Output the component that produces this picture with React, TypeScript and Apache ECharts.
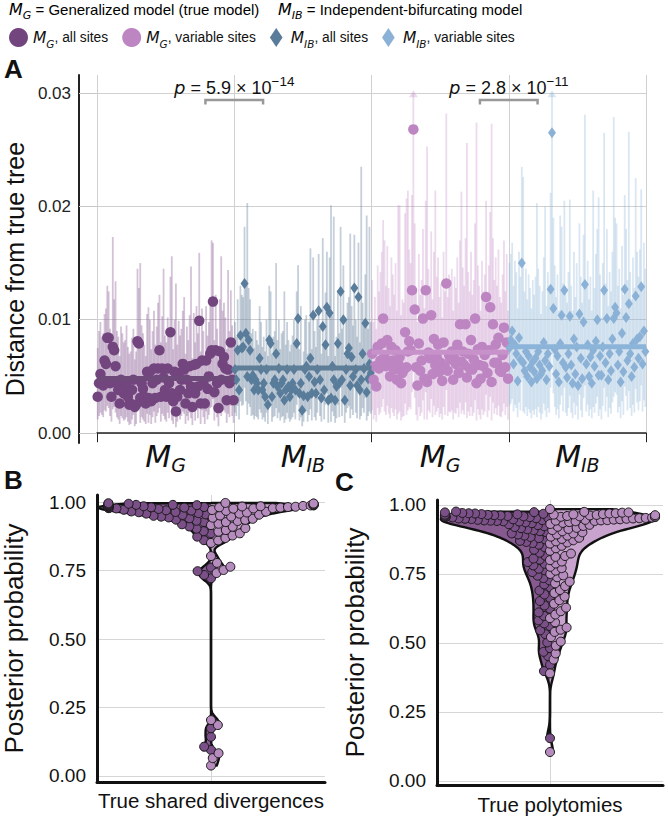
import React, { useEffect, useRef } from "react";
import * as echarts from "echarts";

const FONT = "'Liberation Sans', 'DejaVu Sans', sans-serif";
const MATH = "'DejaVu Sans', sans-serif";

// ---------------- Panel A data (distance from true tree) ----------------
const GROUP_SUBSCRIPTS = ["G", "IB", "G", "IB"];
const Y_TICKS_A = [0, 0.01, 0.02, 0.03];

const MG_ALL_DIST = [0.0032,0.0044,0.0052,0.0047,0.0042, 0.0064,0.0061,0.0084,0.0084,0.0044, 0.0032,0.0076,0.0073,0.0059,0.0044, 0.0038,0.0026,0.0047,0.0042,0.0035, 0.0038,0.0044,0.0032,0.0025,0.0026, 0.0038,0.0047,0.0023,0.0025,0.0081, 0.0079,0.0031,0.0044,0.0039,0.0032, 0.0026,0.0054,0.0031,0.0054,0.0028, 0.0044,0.0057,0.0031,0.0047,0.0057, 0.0073,0.0032,0.0057,0.0049,0.0038, 0.0032,0.0057,0.0044,0.0089,0.0035, 0.0028,0.0054,0.0019,0.0032,0.0053, 0.0038,0.0047,0.0061,0.0056,0.0026, 0.0047,0.0035,0.0059,0.0041,0.0023, 0.0060,0.0035,0.0061,0.0041,0.0099, 0.0026,0.0064,0.0044,0.0026,0.0064, 0.0039,0.0050,0.0070,0.0073,0.0116, 0.0036,0.0073,0.0044,0.0022,0.0072, 0.0047,0.0061,0.0067,0.0057,0.0029, 0.0056,0.0044,0.0080,0.0047,0.0029];
const MG_ALL_LOW = [0.0012,0.0015,0.0018,0.0016,0.0014, 0.0020,0.0019,0.0024,0.0022,0.0015, 0.0010,0.0021,0.0023,0.0018,0.0014, 0.0012,0.0008,0.0015,0.0013,0.0011, 0.0012,0.0014,0.0010,0.0007,0.0008, 0.0012,0.0016,0.0006,0.0008,0.0022, 0.0024,0.0009,0.0014,0.0012,0.0010, 0.0008,0.0017,0.0009,0.0016,0.0008, 0.0014,0.0019,0.0009,0.0015,0.0018, 0.0022,0.0010,0.0017,0.0015,0.0012, 0.0010,0.0018,0.0013,0.0026,0.0011, 0.0008,0.0016,0.0005,0.0010,0.0017, 0.0012,0.0015,0.0019,0.0017,0.0008, 0.0015,0.0011,0.0018,0.0013,0.0007, 0.0019,0.0011,0.0020,0.0013,0.0028, 0.0008,0.0020,0.0014,0.0008,0.0019, 0.0012,0.0016,0.0022,0.0023,0.0030, 0.0011,0.0022,0.0014,0.0006,0.0021, 0.0015,0.0019,0.0020,0.0018,0.0009, 0.0017,0.0014,0.0024,0.0015,0.0009];
const MG_ALL_HIGH = [0.0075,0.0090,0.0098,0.0085,0.0088, 0.0105,0.0110,0.0130,0.0125,0.0092, 0.0078,0.0173,0.0118,0.0134,0.0090, 0.0085,0.0068,0.0094,0.0088,0.0080, 0.0082,0.0095,0.0076,0.0070,0.0072, 0.0084,0.0092,0.0065,0.0072,0.0145, 0.0128,0.0150,0.0095,0.0088,0.0078, 0.0068,0.0105,0.0111,0.0100,0.0074, 0.0090,0.0108,0.0078,0.0094,0.0115, 0.0122,0.0080,0.0103,0.0145,0.0086, 0.0080,0.0102,0.0092,0.0138,0.0156, 0.0074,0.0100,0.0132,0.0078,0.0099, 0.0086,0.0092,0.0108,0.0120,0.0070, 0.0094,0.0082,0.0104,0.0147,0.0066, 0.0106,0.0080,0.0112,0.0088,0.0159, 0.0072,0.0110,0.0090,0.0068,0.0112, 0.0086,0.0098,0.0120,0.0170,0.0168, 0.0082,0.0122,0.0092,0.0066,0.0118, 0.0156,0.0108,0.0115,0.0102,0.0074, 0.0144,0.0090,0.0126,0.0095,0.0078];

const MIB_ALL_DIST = [0.0056,0.0047,0.0073,0.0038,0.0086, 0.0075,0.0076,0.0132,0.0088,0.0050, 0.0082,0.0073,0.0047,0.0051,0.0038, 0.0047,0.0044,0.0038,0.0066,0.0056, 0.0038,0.0044,0.0032,0.0056,0.0025, 0.0082,0.0079,0.0032,0.0044,0.0047, 0.0070,0.0041,0.0057,0.0035,0.0044, 0.0047,0.0029,0.0038,0.0056,0.0041, 0.0032,0.0038,0.0044,0.0056,0.0038, 0.0079,0.0101,0.0035,0.0044,0.0020, 0.0033,0.0056,0.0059,0.0032,0.0050, 0.0066,0.0035,0.0104,0.0045,0.0035, 0.0056,0.0108,0.0047,0.0031,0.0094, 0.0038,0.0078,0.0111,0.0029,0.0106, 0.0031,0.0059,0.0047,0.0029,0.0041, 0.0079,0.0044,0.0125,0.0047,0.0100, 0.0029,0.0056,0.0070,0.0075,0.0042, 0.0067,0.0050,0.0128,0.0056,0.0042, 0.0120,0.0038,0.0047,0.0070,0.0057, 0.0097,0.0036,0.0048,0.0061,0.0053];
const MIB_ALL_LOW = [0.0018,0.0015,0.0024,0.0012,0.0028, 0.0024,0.0025,0.0040,0.0028,0.0016, 0.0026,0.0023,0.0015,0.0016,0.0012, 0.0015,0.0014,0.0012,0.0021,0.0018, 0.0012,0.0014,0.0010,0.0018,0.0008, 0.0026,0.0025,0.0010,0.0014,0.0015, 0.0022,0.0013,0.0018,0.0011,0.0014, 0.0015,0.0009,0.0012,0.0018,0.0013, 0.0010,0.0012,0.0014,0.0018,0.0012, 0.0025,0.0032,0.0011,0.0014,0.0006, 0.0010,0.0018,0.0019,0.0010,0.0016, 0.0021,0.0011,0.0033,0.0014,0.0011, 0.0018,0.0034,0.0015,0.0010,0.0030, 0.0012,0.0025,0.0035,0.0009,0.0034, 0.0010,0.0019,0.0015,0.0009,0.0013, 0.0025,0.0014,0.0040,0.0015,0.0032, 0.0009,0.0018,0.0022,0.0024,0.0013, 0.0021,0.0016,0.0041,0.0018,0.0013, 0.0038,0.0012,0.0015,0.0022,0.0018, 0.0031,0.0011,0.0015,0.0019,0.0017];
const MIB_ALL_HIGH = [0.0098,0.0085,0.0118,0.0078,0.0130, 0.0122,0.0120,0.0182,0.0135,0.0203, 0.0128,0.0118,0.0088,0.0092,0.0075, 0.0090,0.0082,0.0078,0.0112,0.0098, 0.0076,0.0085,0.0072,0.0100,0.0068, 0.0130,0.0125,0.0070,0.0085,0.0090, 0.0150,0.0082,0.0100,0.0074,0.0088, 0.0090,0.0125,0.0078,0.0098,0.0082, 0.0072,0.0078,0.0086,0.0100,0.0080, 0.0125,0.0148,0.0074,0.0112,0.0060, 0.0072,0.0100,0.0104,0.0070,0.0098, 0.0163,0.0074,0.0155,0.0090,0.0076, 0.0100,0.0158,0.0092,0.0070,0.0172, 0.0080,0.0124,0.0160,0.0068,0.0155, 0.0201,0.0104,0.0191,0.0068,0.0085, 0.0126,0.0088,0.0182,0.0092,0.0148, 0.0068,0.0100,0.0115,0.0120,0.0176, 0.0112,0.0095,0.0175,0.0100,0.0085, 0.0168,0.0080,0.0235,0.0115,0.0100, 0.0140,0.0192,0.0092,0.0182,0.0098];

const MG_VAR_DIST = [0.0070,0.0047,0.0059,0.0041,0.0076, 0.0057,0.0064,0.0079,0.0101,0.0067, 0.0059,0.0082,0.0061,0.0050,0.0076, 0.0064,0.0056,0.0073,0.0047,0.0061, 0.0067,0.0044,0.0053,0.0056,0.0089, 0.0058,0.0072,0.0081,0.0073,0.0126, 0.0268,0.0109,0.0058,0.0042,0.0079, 0.0055,0.0064,0.0101,0.0048,0.0126, 0.0045,0.0071,0.0066,0.0104,0.0052, 0.0083,0.0060,0.0067,0.0078,0.0054, 0.0062,0.0046,0.0080,0.0058,0.0132, 0.0055,0.0069,0.0065,0.0072,0.0047, 0.0066,0.0061,0.0078,0.0053,0.0096, 0.0063,0.0072,0.0060,0.0096,0.0049, 0.0070,0.0057,0.0082,0.0056,0.0065, 0.0101,0.0044,0.0074,0.0060,0.0048, 0.0076,0.0059,0.0069,0.0120,0.0053, 0.0073,0.0111,0.0045,0.0096,0.0062, 0.0078,0.0062,0.0084,0.0055,0.0054, 0.0069,0.0093,0.0058,0.0080,0.0048];
const MG_VAR_LOW = [0.0020,0.0012,0.0016,0.0010,0.0022, 0.0016,0.0018,0.0023,0.0030,0.0019, 0.0016,0.0024,0.0017,0.0013,0.0022, 0.0018,0.0015,0.0021,0.0012,0.0017, 0.0019,0.0011,0.0014,0.0015,0.0026, 0.0016,0.0020,0.0023,0.0021,0.0036, 0.0060,0.0031,0.0016,0.0011,0.0023, 0.0015,0.0018,0.0029,0.0012,0.0036, 0.0012,0.0020,0.0018,0.0030,0.0014, 0.0024,0.0016,0.0019,0.0022,0.0014, 0.0017,0.0012,0.0023,0.0016,0.0038, 0.0015,0.0019,0.0018,0.0020,0.0012, 0.0018,0.0017,0.0022,0.0014,0.0027, 0.0017,0.0020,0.0016,0.0027,0.0013, 0.0019,0.0015,0.0023,0.0015,0.0018, 0.0029,0.0011,0.0021,0.0016,0.0012, 0.0021,0.0016,0.0019,0.0034,0.0014, 0.0020,0.0032,0.0011,0.0027,0.0017, 0.0022,0.0016,0.0024,0.0015,0.0014, 0.0019,0.0026,0.0016,0.0023,0.0012];
const MG_VAR_HIGH = [0.0135,0.0098,0.0120,0.0092,0.0148, 0.0125,0.0142,0.0160,0.0188,0.0170, 0.0130,0.0165,0.0128,0.0112,0.0155, 0.0140,0.0122,0.0150,0.0108,0.0201, 0.0201,0.0104,0.0118,0.0115,0.0194, 0.0207,0.0214,0.0162,0.0150,0.0210, 0.0350,0.0185,0.0128,0.0098,0.0158, 0.0122,0.0135,0.0180,0.0110,0.0205, 0.0253,0.0145,0.0130,0.0178,0.0118, 0.0160,0.0214,0.0138,0.0155,0.0120, 0.0132,0.0102,0.0160,0.0125,0.0282, 0.0120,0.0140,0.0135,0.0145,0.0108, 0.0138,0.0128,0.0155,0.0115,0.0170, 0.0213,0.0146,0.0130,0.0172,0.0256, 0.0142,0.0125,0.0160,0.0122,0.0135, 0.0185,0.0274,0.0148,0.0130,0.0108, 0.0152,0.0125,0.0140,0.0205,0.0118, 0.0148,0.0195,0.0273,0.0172,0.0135, 0.0155,0.0130,0.0162,0.0120,0.0115, 0.0140,0.0170,0.0125,0.0158,0.0108];

const MIB_VAR_DIST = [0.0075,0.0082,0.0090,0.0061,0.0078, 0.0070,0.0046,0.0084,0.0065,0.0150, 0.0062,0.0055,0.0072,0.0050,0.0068, 0.0058,0.0045,0.0063,0.0054,0.0066, 0.0048,0.0072,0.0060,0.0052,0.0055, 0.0080,0.0064,0.0047,0.0070,0.0059, 0.0127,0.0265,0.0110,0.0074,0.0052, 0.0068,0.0045,0.0079,0.0104,0.0062, 0.0126,0.0058,0.0049,0.0070,0.0103, 0.0060,0.0044,0.0083,0.0052,0.0076, 0.0042,0.0105,0.0066,0.0048,0.0098, 0.0131,0.0061,0.0078,0.0050,0.0067, 0.0044,0.0073,0.0059,0.0081,0.0100, 0.0051,0.0068,0.0051,0.0076,0.0126, 0.0062,0.0101,0.0047,0.0070,0.0055, 0.0083,0.0101,0.0111,0.0106,0.0060, 0.0072,0.0045,0.0088,0.0054,0.0127, 0.0102,0.0064,0.0114,0.0070,0.0050, 0.0079,0.0058,0.0121,0.0083,0.0066, 0.0085,0.0129,0.0061,0.0090,0.0072];
const MIB_VAR_LOW = [0.0024,0.0026,0.0030,0.0019,0.0025, 0.0022,0.0014,0.0027,0.0020,0.0048, 0.0019,0.0017,0.0023,0.0015,0.0021, 0.0018,0.0013,0.0020,0.0016,0.0021, 0.0014,0.0023,0.0018,0.0012,0.0017, 0.0026,0.0020,0.0014,0.0022,0.0018, 0.0040,0.0070,0.0035,0.0023,0.0016, 0.0021,0.0013,0.0025,0.0033,0.0019, 0.0040,0.0018,0.0015,0.0022,0.0033, 0.0018,0.0013,0.0027,0.0016,0.0024, 0.0012,0.0034,0.0020,0.0014,0.0031, 0.0042,0.0019,0.0025,0.0015,0.0021, 0.0013,0.0023,0.0018,0.0026,0.0032, 0.0015,0.0021,0.0012,0.0024,0.0040, 0.0019,0.0032,0.0014,0.0022,0.0017, 0.0027,0.0032,0.0036,0.0034,0.0018, 0.0023,0.0013,0.0028,0.0016,0.0041, 0.0033,0.0020,0.0037,0.0022,0.0015, 0.0025,0.0018,0.0039,0.0027,0.0020, 0.0028,0.0042,0.0019,0.0029,0.0023];
const MIB_VAR_HIGH = [0.0150,0.0158,0.0168,0.0130,0.0152, 0.0142,0.0110,0.0160,0.0138,0.0235, 0.0226,0.0125,0.0145,0.0118,0.0140, 0.0128,0.0110,0.0135,0.0122,0.0138, 0.0203,0.0145,0.0130,0.0105,0.0125, 0.0155,0.0200,0.0112,0.0142,0.0130, 0.0212,0.0350,0.0190,0.0148,0.0120, 0.0140,0.0108,0.0192,0.0182,0.0132, 0.0205,0.0128,0.0115,0.0142,0.0206, 0.0130,0.0108,0.0160,0.0120,0.0150, 0.0102,0.0185,0.0138,0.0115,0.0175, 0.0281,0.0132,0.0152,0.0118,0.0138, 0.0108,0.0214,0.0128,0.0158,0.0180, 0.0208,0.0140,0.0102,0.0150,0.0265, 0.0132,0.0180,0.0112,0.0142,0.0125, 0.0160,0.0279,0.0190,0.0185,0.0130, 0.0145,0.0110,0.0165,0.0122,0.0210, 0.0180,0.0135,0.0266,0.0142,0.0118, 0.0155,0.0128,0.0225,0.0160,0.0138, 0.0162,0.0215,0.0130,0.0168,0.0145];

const P_VALUES = [
  { mantissa: "5.9", exponent: "\u221214" },
  { mantissa: "2.8", exponent: "\u221211" },
];

// ---------------- Panels B, C data (posterior probability) ----------------
const Y_TICKS_BC = [0, 0.25, 0.5, 0.75, 1];

const B_ALL_SITES = [0.996,0.994,0.993,0.991,0.990,0.990,0.989,0.988,0.987,0.987,0.986,0.985,0.984,0.983,0.983,0.982,0.981,0.980,0.979,0.978,0.977,0.975,
  0.972,0.970,0.969,0.966,0.964,0.963,0.960,0.958,0.955,0.953,0.950,0.947,0.944,0.941,0.936,0.932,
  0.927,0.919,0.911,0.903,0.894,0.886,0.874,0.861,
  0.761,0.748,0.734,0.722,
  0.174,0.143,0.107,0.095];
const B_VAR_SITES = [0.997,0.995,0.994,0.992,0.991,0.989,0.988,0.988,0.986,0.985,0.984,0.983,0.982,0.981,0.980,0.978,0.977,0.976,
  0.971,0.968,0.965,0.962,0.958,0.954,0.951,0.947,0.943,0.939,0.935,0.931,
  0.927,0.921,0.916,0.910,0.905,0.898,0.892,0.886,0.878,0.869,0.860,0.851,
  0.803,0.778,0.764,0.752,0.741,
  0.204,0.186,0.083,0.065,0.038];

const C_ALL_SITES = [0.976,0.974,0.973,0.971,0.970,0.969,0.968,0.967,0.966,0.965,0.964,0.963,0.962,0.961,0.960,0.959,0.958,0.957,0.956,0.955,0.953,0.952,0.951,0.950,0.949,0.948,0.946,0.945,0.944,0.943,0.942,0.941,0.940,
  0.937,0.934,0.930,0.927,0.923,0.920,0.916,0.912,0.909,0.905,0.901,0.897,0.893,0.889,0.884,0.880,0.875,0.870,0.866,0.862,
  0.856,0.847,0.838,0.827,0.816,0.806,0.802,0.793,0.787,0.781,0.769,0.763,0.757,
  0.744,0.735,0.727,0.712,0.702,0.690,0.676,0.664,0.652,0.636,0.624,0.611,0.598,0.582,0.571,0.561,
  0.546,0.532,0.502,0.481,0.468,0.452,0.421,0.398,
  0.155];
const C_VAR_SITES = [0.985,0.975,0.973,0.972,0.970,0.969,0.967,0.966,0.965,0.964,0.963,0.962,0.960,0.959,0.958,0.957,0.956,0.954,0.953,0.952,0.951,0.950,0.948,0.947,0.946,0.945,0.944,0.943,0.942,0.941,
  0.938,0.935,0.931,0.928,0.924,0.921,0.917,0.913,0.909,0.905,0.901,0.897,0.893,0.889,0.885,0.881,0.877,0.872,0.868,0.864,0.860,
  0.852,0.843,0.834,0.824,0.815,0.812,0.800,0.795,0.788,0.776,0.771,0.762,0.750,
  0.745,0.738,0.722,0.716,0.706,0.692,0.681,0.668,0.655,0.642,0.628,0.615,0.603,0.590,0.575,0.556,
  0.548,0.540,0.521,0.505,0.490,0.462,0.440,0.390,
  0.105];

// ---------------- Layout / style ----------------
const GRID_A = { left: 97, top: 75, width: 549, height: 368 };
const GRID_B = { left: 97, top: 495, width: 228, height: 287 };
const GRID_C = { left: 437, top: 500, width: 226, height: 285 };
const YR_A = [-0.00088, 0.0316];
const YR_B = [-0.022, 1.026];
const YR_C = [-0.0145, 1.018];
const CLIP_A = 0.03;

const DIAMOND_PATH = "path://M6,0 L12,9 L6,18 L0,9 Z";

const GROUPS = [
  { key: "MG_all", vals: MG_ALL_DIST, lo: MG_ALL_LOW, hi: MG_ALL_HIGH, color: "#73457f", bar: "rgba(150,110,160,0.42)", mean: "#6e4a7a", symbol: "circle", size: 10.5 },
  { key: "MIB_all", vals: MIB_ALL_DIST, lo: MIB_ALL_LOW, hi: MIB_ALL_HIGH, color: "#587c9a", bar: "rgba(110,135,160,0.40)", mean: "#5e7d97", symbol: "diamond", size: [8, 11] },
  { key: "MG_var", vals: MG_VAR_DIST, lo: MG_VAR_LOW, hi: MG_VAR_HIGH, color: "#bd85c2", bar: "rgba(195,140,200,0.32)", mean: "#c791ca", symbol: "circle", size: 10.5 },
  { key: "MIB_var", vals: MIB_VAR_DIST, lo: MIB_VAR_LOW, hi: MIB_VAR_HIGH, color: "#8bb2d6", bar: "rgba(140,180,215,0.32)", mean: "#8cb4d8", symbol: "diamond", size: [8, 11] },
];

const LEGEND_TEXT: Record<string, string> = {
  MG_all: "{m|M}{s|G}{t|, all sites}",
  MG_var: "{m|M}{s|G}{t|, variable sites}",
  MIB_all: "{m|M}{s|IB}{t|, all sites}",
  MIB_var: "{m|M}{s|IB}{t|, variable sites}",
};

const RICH_LEGEND = {
  m: { fontFamily: MATH, fontStyle: "italic", fontSize: 15.5, color: "#111", lineHeight: 18, verticalAlign: "middle" },
  s: { fontFamily: MATH, fontStyle: "italic", fontSize: 10.5, color: "#111", lineHeight: 24, verticalAlign: "bottom" },
  t: { fontFamily: FONT, fontSize: 13.8, color: "#111", lineHeight: 18, verticalAlign: "middle" },
};

const RICH_HEADER = {
  m: { fontFamily: MATH, fontStyle: "italic", fontSize: 16, color: "#111", lineHeight: 18, verticalAlign: "middle" },
  s: { fontFamily: MATH, fontStyle: "italic", fontSize: 11, color: "#111", lineHeight: 24, verticalAlign: "bottom" },
  t: { fontFamily: FONT, fontSize: 15, color: "#111", lineHeight: 18, verticalAlign: "middle" },
};

const RICH_P = {
  i: { fontFamily: MATH, fontStyle: "italic", fontSize: 18, color: "#111", lineHeight: 22, verticalAlign: "bottom" },
  b: { fontFamily: FONT, fontSize: 18, color: "#111", lineHeight: 22, verticalAlign: "bottom" },
  sup: { fontFamily: FONT, fontSize: 13.5, color: "#111", lineHeight: 13, verticalAlign: "top" },
};

function mean(a: number[]) {
  return a.reduce((s, v) => s + v, 0) / a.length;
}

function kde(values: number[], bw: number, y: number) {
  let s = 0;
  for (const v of values) s += Math.exp(-0.5 * ((y - v) / bw) ** 2);
  return s / (values.length * bw * Math.sqrt(2 * Math.PI));
}

function violinHalves(dark: number[], light: number[], bw: number, W: number) {
  const N = 200;
  const make = (vals: number[]) => {
    const lo = Math.min(...vals), hi = Math.max(...vals);
    const ys: number[] = [];
    for (let k = 0; k <= N; k++) ys.push(lo + ((hi - lo) * k) / N);
    return { lo, hi, ys, d: ys.map((y) => kde(vals, bw, y)) };
  };
  const a = make(dark), b = make(light);
  const m = Math.max(...a.d, ...b.d);
  const outline = (h: any, side: number) => [[0, h.lo], ...h.ys.map((y: number, k: number) => [side * W * h.d[k] / m, y]), [0, h.hi]];
  return [outline(a, -1), outline(b, 1)];
}

function swarm(groups: { vals: number[]; side: number }[], pxX: number, pxY: number, d: number, maxPx: number) {
  const items: { v: number; side: number; gi: number }[] = [];
  groups.forEach((g, gi) => g.vals.forEach((v) => items.push({ v, side: g.side, gi })));
  items.sort((a, b) => a.v - b.v);
  const placed: { x: number; y: number }[] = [];
  const out: number[][][] = groups.map(() => []);
  for (const it of items) {
    const y = it.v * pxY;
    const near = placed.filter((p) => Math.abs(p.y - y) < d);
    const cands = [0];
    near.forEach((p) => {
      const dx = Math.sqrt(d * d - (p.y - y) ** 2);
      cands.push(p.x + dx, p.x - dx);
    });
    const valid = cands.filter((c) => it.side * c >= -1e-9).sort((p, q) => Math.abs(p) - Math.abs(q));
    let x = valid.find((c) => near.every((p) => (c - p.x) ** 2 + (p.y - y) ** 2 >= d * d - 1e-6));
    if (x === undefined || Math.abs(x) > maxPx) x = it.side * maxPx;
    placed.push({ x, y });
    out[it.gi].push([x / pxX, it.v]);
  }
  return out;
}

function panelSeries(dark: number[], light: number[], xi: number, yi: number, grid: any, yr: number[], bw: number, W: number, d: number, maxW: number) {
  const pxX = grid.width / 2;
  const pxY = grid.height / (yr[1] - yr[0]);
  const halves = violinHalves(dark, light, bw, W);
  const fills = ["#86598f", "#c8a3ce"];
  const pts = swarm([{ vals: dark, side: -1 }, { vals: light, side: 1 }], pxX, pxY, d, maxW * pxX);
  return [
    {
      type: "custom", xAxisIndex: xi, yAxisIndex: yi, z: 2, silent: true, clip: false,
      encode: { x: 0, y: 1 },
      data: [[0, 0.5]],
      renderItem: (_p: any, api: any) => {
        const children: any[] = [];
        halves.forEach((h, k) => {
          const pts2 = h.map((p) => api.coord(p));
          children.push({ type: "polygon", shape: { points: pts2 }, style: { fill: fills[k], stroke: "none" } });
        });
        halves.forEach((h) => {
          const pts2 = h.map((p) => api.coord(p));
          children.push({ type: "polyline", shape: { points: pts2 }, style: { stroke: "#111", lineWidth: 2.4, fill: "none" } });
        });
        return { type: "group", children };
      },
    },
    {
      type: "scatter", xAxisIndex: xi, yAxisIndex: yi, z: 3, silent: true, symbol: "circle", symbolSize: 9,
      itemStyle: { color: "#7b4f88", borderColor: "#1a1a1a", borderWidth: 1, opacity: 1 },
      data: pts[0],
    },
    {
      type: "scatter", xAxisIndex: xi, yAxisIndex: yi, z: 3, silent: true, symbol: "circle", symbolSize: 9,
      itemStyle: { color: "#b68bbd", borderColor: "#1a1a1a", borderWidth: 1, opacity: 1 },
      data: pts[1],
    },
  ];
}

function buildOption() {
  const series: any[] = [];
  const per = MG_ALL_DIST.length;

  GROUPS.forEach((g, gi) => {
    series.push({
      type: "custom", name: g.key + "_ci", xAxisIndex: 1, yAxisIndex: 0, z: 1, silent: true,
      encode: { x: 0, y: [1, 2] },
      data: g.vals.map((_v, i) => [gi * per + i + 0.5, g.lo[i], g.hi[i]]),
      renderItem: (_p: any, api: any) => {
        const x = api.value(0), lo = api.value(1), hi = api.value(2);
        const top = Math.min(hi, CLIP_A);
        const p1 = api.coord([x, lo]);
        const p2 = api.coord([x, top]);
        const children: any[] = [
          { type: "line", shape: { x1: p1[0], y1: p1[1], x2: p2[0], y2: p2[1] }, style: { stroke: g.bar, lineWidth: 1.8 } },
        ];
        if (hi > CLIP_A) {
          children.push({
            type: "polygon",
            shape: { points: [[p2[0] - 4.5, p2[1] + 4], [p2[0] + 4.5, p2[1] + 4], [p2[0], p2[1] - 3]] },
            style: { fill: g.bar },
          });
        }
        return { type: "group", children };
      },
    });
  });

  GROUPS.forEach((g, gi) => {
    series.push({
      type: "scatter", name: g.key, xAxisIndex: 1, yAxisIndex: 0, z: 3, silent: true,
      symbol: g.symbol, symbolSize: g.size,
      itemStyle: { color: g.color, opacity: 1 },
      data: g.vals.map((v, i) => [gi * per + i + 0.5, v]),
    });
  });

  GROUPS.forEach((g, gi) => {
    const m = mean(g.vals);
    series.push({
      type: "line", xAxisIndex: 1, yAxisIndex: 0, z: 4, silent: true, symbol: "none",
      lineStyle: { color: g.mean, width: 5 },
      data: [[gi * per, m], [(gi + 1) * per, m]],
    });
  });

  // significance brackets between the two models
  series.push({
    type: "custom", xAxisIndex: 1, yAxisIndex: 0, z: 5, silent: true, clip: false,
    encode: { x: 0, y: 1 },
    data: P_VALUES.map((_p, k) => [(2 * k + 1) * per, 0.0294]),
    renderItem: (params: any, api: any) => {
      const k = params.dataIndex;
      const cx = api.value(0), y = api.value(1);
      const a = api.coord([cx - 0.21 * per, y]);
      const b = api.coord([cx + 0.21 * per, y]);
      const t = api.coord([cx, y]);
      return {
        type: "group",
        children: [
          { type: "polyline", shape: { points: [[a[0], a[1] + 4.5], [a[0], a[1]], [b[0], b[1]], [b[0], b[1] + 4.5]] }, style: { stroke: "#999", lineWidth: 2.5, fill: "none" } },
          {
            type: "text", x: t[0], y: t[1] - 3,
            style: {
              text: `{i|p}{b| = ${P_VALUES[k].mantissa} \u00d7 10}{sup|${P_VALUES[k].exponent}}`,
              rich: RICH_P, align: "center", verticalAlign: "bottom", fill: "#111",
            },
          },
        ],
      };
    },
  });

  series.push(...panelSeries(B_ALL_SITES, B_VAR_SITES, 2, 1, GRID_B, YR_B, 0.016, 0.985, 7.6, 0.9));
  series.push(...panelSeries(C_ALL_SITES, C_VAR_SITES, 3, 2, GRID_C, YR_C, 0.03, 0.965, 6.4, 0.93));

  const grid = [GRID_A, GRID_B, GRID_C].map((g) => ({ ...g, outerBoundsMode: "none", containLabel: false }));

  const valueXAxisBC = (gi: number, name: string, gap: number) => ({
    type: "value", gridIndex: gi, min: -1, max: 1,
    axisLine: { show: true, onZero: false, lineStyle: { color: "#111", width: 3 } },
    axisTick: { show: false, customValues: [0] },
    axisLabel: { show: false, customValues: [0] },
    splitLine: { show: true, lineStyle: { color: "#d6d6d6", width: 1 } },
    name, nameLocation: "middle", nameGap: gap, nameMoveOverlap: false,
    nameTextStyle: { fontFamily: FONT, fontSize: 20.5, color: "#111", verticalAlign: "top" },
  });

  const valueYAxisBC = (gi: number, yr: number[], gap: number) => ({
    type: "value", gridIndex: gi, min: yr[0], max: yr[1],
    axisLine: { show: true, onZero: false, lineStyle: { color: "#111", width: 3 } },
    axisTick: { show: false, customValues: Y_TICKS_BC },
    axisLabel: { customValues: Y_TICKS_BC, formatter: (v: number) => v.toFixed(2), fontFamily: FONT, fontSize: 19, color: "#111", margin: 11 },
    splitLine: { show: true, lineStyle: { color: "#d6d6d6", width: 1 } },
    name: "Posterior probability", nameLocation: "middle", nameGap: gap, nameMoveOverlap: false,
    nameTextStyle: { fontFamily: FONT, fontSize: 26, color: "#111" },
  });

  return {
    animation: false,
    backgroundColor: "#ffffff",
    textStyle: { fontFamily: FONT },
    grid,
    legend: {
      show: true, left: 4, top: 23, itemGap: 14, itemWidth: 19, itemHeight: 19, selectedMode: false,
      data: [
        { name: "MG_all", icon: "circle" },
        { name: "MG_var", icon: "circle" },
        { name: "MIB_all", icon: DIAMOND_PATH },
        { name: "MIB_var", icon: DIAMOND_PATH },
      ],
      formatter: (name: string) => LEGEND_TEXT[name],
      textStyle: { rich: RICH_LEGEND },
    },
    graphic: [
      { type: "text", left: 9, top: 1, style: { text: "{m|M}{s|G}{t| = Generalized model (true model)}", rich: RICH_HEADER } },
      { type: "text", left: 278, top: 1, style: { text: "{m|M}{s|IB}{t| = Independent-bifurcating model}", rich: RICH_HEADER } },
      { type: "text", left: 4, top: 56, style: { text: "A", font: `bold 26px ${FONT}`, fill: "#111" } },
      { type: "text", left: 4, top: 467, style: { text: "B", font: `bold 26px ${FONT}`, fill: "#111" } },
      { type: "text", left: 335, top: 469, style: { text: "C", font: `bold 26px ${FONT}`, fill: "#111" } },
    ],
    xAxis: [
      {
        type: "category", gridIndex: 0, data: GROUP_SUBSCRIPTS, boundaryGap: true,
        axisLine: { show: true, onZero: true, lineStyle: { color: "#222", width: 1.5 } },
        axisTick: { show: true, length: 9, alignWithLabel: false, lineStyle: { color: "#222", width: 1 } },
        axisLabel: {
          interval: 0, margin: -5,
          formatter: (v: string) => `{m|M}{s|${v}}`,
          rich: {
            m: { fontFamily: MATH, fontStyle: "italic", fontSize: 30, color: "#111", lineHeight: 30, verticalAlign: "middle" },
            s: { fontFamily: MATH, fontStyle: "italic", fontSize: 19, color: "#111", lineHeight: 36, verticalAlign: "bottom" },
          },
        },
        splitLine: { show: true, interval: 0, lineStyle: { color: "#d0d0d0", width: 1 } },
      },
      { type: "value", gridIndex: 0, min: 0, max: 4 * MG_ALL_DIST.length, show: false },
      valueXAxisBC(1, "True shared divergences", 8),
      valueXAxisBC(2, "True polytomies", 9),
    ],
    yAxis: [
      {
        type: "value", gridIndex: 0, min: YR_A[0], max: YR_A[1], offset: 18,
        axisLine: { show: true, onZero: false, lineStyle: { color: "#222", width: 2 } },
        axisTick: { show: true, inside: true, length: 18, customValues: Y_TICKS_A, lineStyle: { color: "#c8c8c8" } },
        axisLabel: { customValues: Y_TICKS_A, formatter: (v: number) => v.toFixed(2), fontFamily: FONT, fontSize: 17, color: "#222", margin: 8 },
        splitLine: { show: true, lineStyle: { color: "#d0d0d0", width: 1 } },
        name: "Distance from true tree", nameLocation: "middle", nameGap: 52, nameMoveOverlap: false,
        nameTextStyle: { fontFamily: FONT, fontSize: 25, color: "#111", padding: [0, 20, 0, 0] },
      },
      valueYAxisBC(1, YR_B, 70),
      valueYAxisBC(2, YR_C, 69),
    ],
    series,
  };
}

export default function App() {
  const ref = useRef<HTMLDivElement>(null);
  useEffect(() => {
    const chart = echarts.init(ref.current as HTMLDivElement, null, { renderer: "svg" });
    chart.setOption(buildOption() as any);
    return () => chart.dispose();
  }, []);
  return (
    <div
      ref={ref}
      style={{ position: "fixed", left: 0, top: 0, width: 668, height: 817, background: "#ffffff" }}
    />
  );
}
